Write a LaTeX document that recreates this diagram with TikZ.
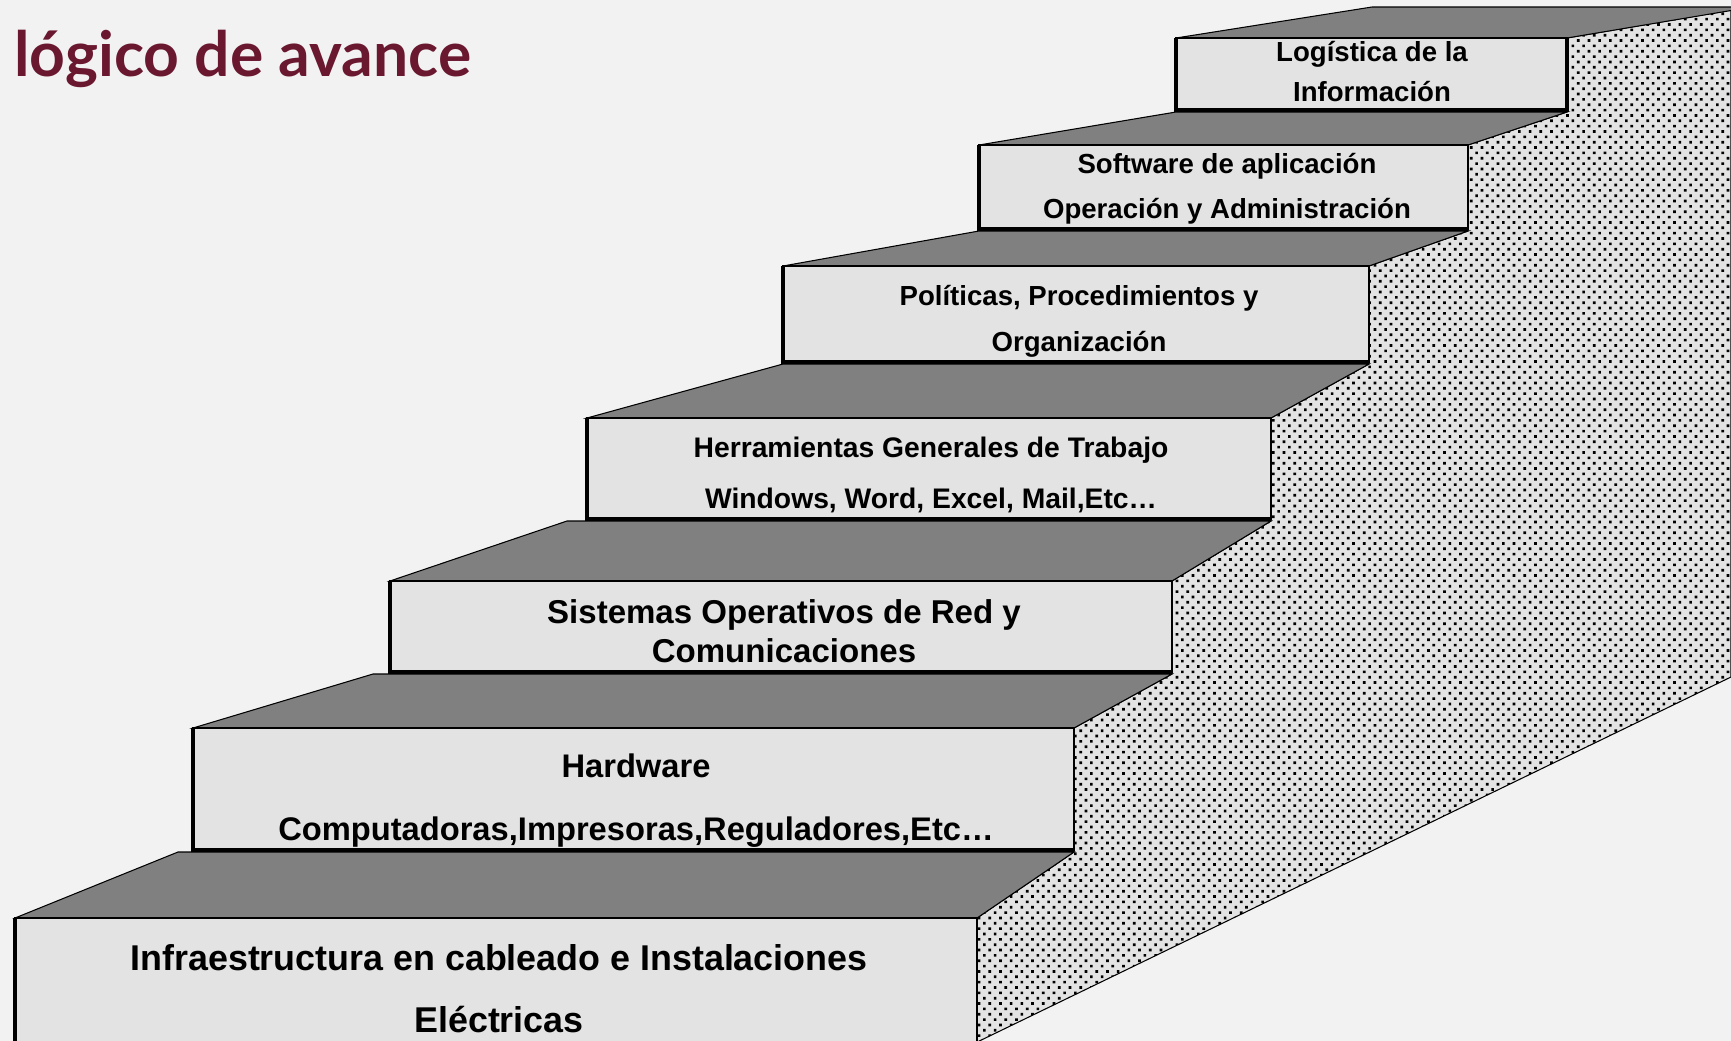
\documentclass[tikz,border=0pt]{standalone}
\usepackage{fontspec}
\setmainfont{Liberation Sans}
\newfontfamily\titlefont{Lato}
\usetikzlibrary{patterns}
\definecolor{pagegray}{RGB}{242,242,242}
\definecolor{facegray}{RGB}{227,227,227}
\definecolor{treadgray}{RGB}{128,128,128}
\definecolor{titlered}{RGB}{106,24,48}
% dotted side of the staircase
\pgfdeclarepatternformonly{sidedots}{\pgfqpoint{-1pt}{-1pt}}{\pgfqpoint{4pt}{4pt}}{\pgfqpoint{6.09pt}{6.09pt}}{
  \pgfpathrectangle{\pgfqpoint{-0.75pt}{-0.75pt}}{\pgfqpoint{1.5pt}{1.5pt}}
  \pgfpathrectangle{\pgfqpoint{2.295pt}{2.295pt}}{\pgfqpoint{1.5pt}{1.5pt}}
  \pgfusepath{fill}}
\tikzset{
  tread/.style={fill=treadgray, draw=black, line width=0.6pt},
  riser/.style={fill=facegray, draw=black, line width=0.9pt},
  riseredge/.style={draw=black, line width=2.3pt},
  side/.style={fill=facegray, draw=black, line width=0.6pt, postaction={pattern=sidedots}},
  lbl/.style={anchor=base, inner sep=0pt, font=\bfseries\fontsize{#1}{#1}\selectfont}
}

\begin{document}
\begin{tikzpicture}[x=0.02cm, y=-0.02cm]
  \useasboundingbox (0,0) rectangle (1731,1041);
  \clip (0,0) rectangle (1731,1041);
  \fill[pagegray] (0,0) rectangle (1731,1041);

  \path[side] (977,1045) -- (977,918) -- (1074,852) -- (1074,728) -- (1172,674) -- (1172,581)
    -- (1271,521) -- (1271,418) -- (1369,364) -- (1369,266) -- (1468,231) -- (1468,145)
    -- (1567,112) -- (1567,38) -- (1731,10) -- (1731,677) -- (971,1045) -- cycle;

  % steps, bottom to top
  \draw[tread] (15,918) -- (178,852) -- (1074,852) -- (977,918) -- cycle;
  \draw[riser] (15,918) rectangle (977,1050);
  \draw[riseredge] (15,918) -- (15,1050);

  \draw[tread] (193,728) -- (373,674) -- (1172,674) -- (1074,728) -- cycle;
  \draw[riser] (193,728) rectangle (1074,850);
  \draw[riseredge] (193,728) |- (1074,850);

  \draw[tread] (390,581) -- (567,521) -- (1271,521) -- (1172,581) -- cycle;
  \draw[riser] (390,581) rectangle (1172,672);
  \draw[riseredge] (390,581) |- (1172,672);

  \draw[tread] (587,418) -- (783,364) -- (1369,364) -- (1271,418) -- cycle;
  \draw[riser] (587,418) rectangle (1271,519);
  \draw[riseredge] (587,418) |- (1271,519);

  \draw[tread] (783,266) -- (979,231) -- (1468,231) -- (1369,266) -- cycle;
  \draw[riser] (783,266) rectangle (1369,362);
  \draw[riseredge] (783,266) |- (1369,362);

  \draw[tread] (979,145) -- (1176,112) -- (1567,112) -- (1468,145) -- cycle;
  \draw[riser] (979,145) rectangle (1468,229);
  \draw[riseredge] (979,145) |- (1468,229);

  \draw[tread] (1176,38) -- (1372,7) -- (1740,7) -- (1740,9) -- (1567,38) -- cycle;
  \draw[riser] (1176,38) rectangle (1567,110);
  \draw[riseredge] (1176,38) |- (1567,110) -- (1567,38);

  % labels
  \node[lbl=20.4] (cableado) at (499,970) {Infraestructura en cableado e Instalaciones};
  \node[lbl=20.4] (electricas) at (499,1032) {Eléctricas};
  \node[lbl=18.6] (hardware) at (636,777) {Hardware};
  \node[lbl=18.6] (equipos) at (636,840) {Computadoras,Impresoras,Reguladores,Etc…};
  \node[lbl=18.8] (sistemas) at (784,623) {Sistemas Operativos de Red y};
  \node[lbl=18.8] (comunic) at (784,662) {Comunicaciones};
  \node[lbl=16.1] (herram) at (931,457) {Herramientas Generales de Trabajo};
  \node[lbl=16.1] (oficina) at (931,508) {Windows, Word, Excel, Mail,Etc…};
  \node[lbl=15.7] (politicas) at (1079,305) {Políticas, Procedimientos y};
  \node[lbl=15.7] (organiz) at (1079,351) {Organización};
  \node[lbl=15.7] (software) at (1227,173) {Software de aplicación};
  \node[lbl=15.7] (operacion) at (1227,218) {Operación y Administración};
  \node[lbl=15.7] (logistica) at (1372,61) {Logística de la};
  \node[lbl=15.7] (informacion) at (1372,101) {Información};

  \node[anchor=base west, inner sep=0pt, text=titlered,
        font=\titlefont\bfseries\fontsize{35.5}{35.5}\selectfont] (titulo) at (14,76) {lógico de avance};
\end{tikzpicture}
\end{document}
